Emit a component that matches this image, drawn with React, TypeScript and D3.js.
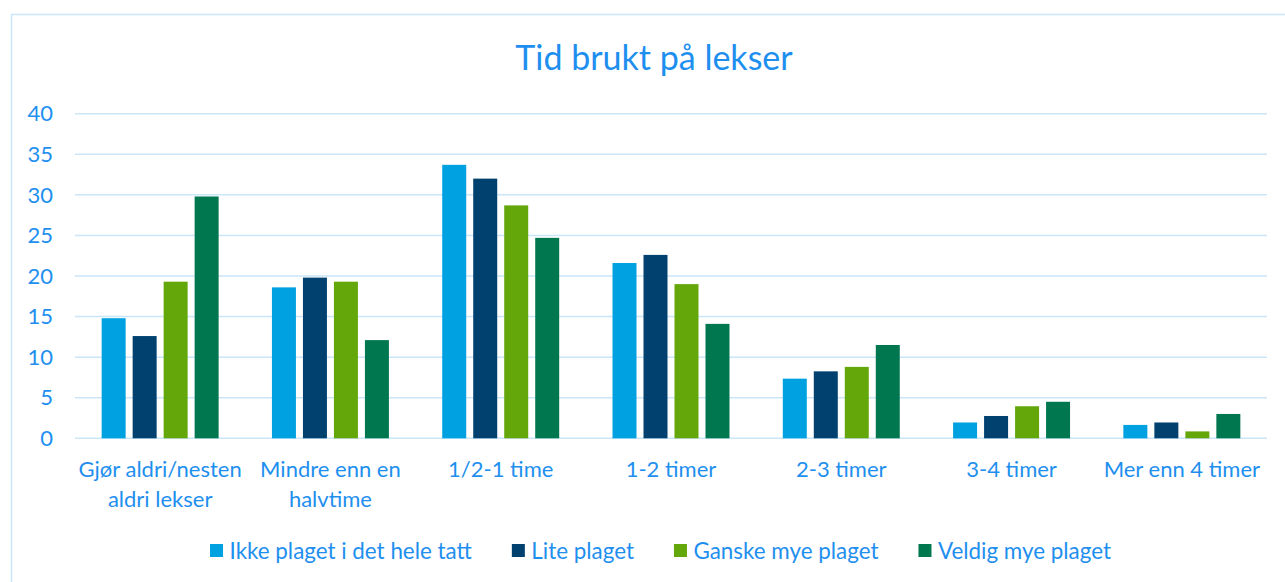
import React, { useEffect, useRef } from 'react';
import * as d3 from 'd3';

const categories = [
  'Gjør aldri/nesten aldri lekser',
  'Mindre enn en halvtime',
  '1/2-1 time',
  '1-2 timer',
  '2-3 timer',
  '3-4 timer',
  'Mer enn 4 timer',
];

// label lines for the x axis
const categoryLines = [
  ['Gjør aldri/nesten', 'aldri lekser'],
  ['Mindre enn en', 'halvtime'],
  ['1/2-1 time'],
  ['1-2 timer'],
  ['2-3 timer'],
  ['3-4 timer'],
  ['Mer enn 4 timer'],
];

const seriesNames = ['Ikke plaget i det hele tatt', 'Lite plaget', 'Ganske mye plaget', 'Veldig mye plaget'];
const seriesColors = ['#00A1E0', '#004170', '#64A70B', '#00774F'];

const ikkePlaget = [14.8, 18.6, 33.7, 21.6, 7.35, 1.95, 1.65];
const litePlaget = [12.6, 19.8, 32.0, 22.6, 8.25, 2.75, 1.95];
const ganskeMye = [19.3, 19.3, 28.7, 19.0, 8.8, 3.95, 0.85];
const veldigMye = [29.8, 12.1, 24.7, 14.1, 11.5, 4.5, 3.0];

const seriesValues = [ikkePlaget, litePlaget, ganskeMye, veldigMye];
const yTicks = [0, 5, 10, 15, 20, 25, 30, 35, 40];

const textColor = '#1E8FEF';
const gridColor = '#C9E6FA';
const fontFamily = 'Lato, "Open Sans", sans-serif';

const App = () => {
  const ref = useRef<SVGSVGElement>(null);

  useEffect(() => {
    const svg = d3.select(ref.current);
    svg.selectAll('*').remove();

    const left = 75;
    const right = 1267;
    const top = 113.7;
    const bottom = 438.3;

    // outer frame
    svg.append('rect')
      .attr('x', 11.5).attr('y', 14.5)
      .attr('width', 1300).attr('height', 600)
      .attr('fill', 'white')
      .attr('stroke', gridColor).attr('stroke-width', 1.5);

    // title
    svg.append('text')
      .attr('x', 654).attr('y', 70)
      .attr('text-anchor', 'middle')
      .attr('font-size', 34)
      .attr('fill', textColor)
      .text('Tid brukt på lekser');

    const x0 = d3.scaleBand().domain(categories).range([left, right]).padding(0);
    const x1 = d3.scaleBand().domain(seriesNames).range([0, x0.bandwidth()])
      .paddingInner(0.226).paddingOuter(0.86);
    const y = d3.scaleLinear().domain([0, 40]).range([bottom, top]);

    // gridlines
    svg.append('g').selectAll('line')
      .data(yTicks)
      .enter()
      .append('line')
      .attr('x1', left).attr('x2', right)
      .attr('y1', d => y(d)).attr('y2', d => y(d))
      .attr('stroke', gridColor).attr('stroke-width', 1.5);

    // y labels
    svg.append('g').selectAll('text')
      .data(yTicks)
      .enter()
      .append('text')
      .attr('x', 53).attr('y', d => y(d))
      .attr('dy', '0.35em')
      .attr('text-anchor', 'end')
      .attr('font-size', 22)
      .attr('fill', textColor)
      .text(d => d);

    // bars
    seriesNames.forEach((name, si) => {
      svg.append('g').selectAll('rect')
        .data(seriesValues[si])
        .enter()
        .append('rect')
        .attr('x', (d, i) => (x0(categories[i]) as number) + (x1(name) as number))
        .attr('y', d => y(d))
        .attr('width', x1.bandwidth())
        .attr('height', d => bottom - y(d))
        .attr('fill', seriesColors[si]);
    });

    // x labels
    const xl = svg.append('g');
    categories.forEach((c, i) => {
      const cx = (x0(c) as number) + x0.bandwidth() / 2;
      categoryLines[i].forEach((line, li) => {
        xl.append('text')
          .attr('x', cx).attr('y', 477 + li * 30)
          .attr('text-anchor', 'middle')
          .attr('font-size', 22)
          .attr('fill', textColor)
          .text(line);
      });
    });

    // legend, centered
    const legend = svg.append('g');
    const items = seriesNames.map((name, i) => {
      const g = legend.append('g');
      g.append('rect')
        .attr('x', 0).attr('y', -7)
        .attr('width', 13).attr('height', 13)
        .attr('fill', seriesColors[i]);
      const t = g.append('text')
        .attr('x', 19.5).attr('y', 0)
        .attr('dy', '0.35em')
        .attr('font-size', 22.4)
        .attr('fill', textColor)
        .text(name);
      const w = 19.5 + (t.node() as SVGTextElement).getComputedTextLength();
      return { g, w };
    });
    const gap = 40;
    const total = d3.sum(items, d => d.w) + gap * (items.length - 1);
    let pos = 660.5 - total / 2;
    items.forEach(it => {
      it.g.attr('transform', `translate(${pos}, 551)`);
      pos += it.w + gap;
    });
  }, []);

  return (
    <svg
      ref={ref}
      width={1285}
      height={582}
      style={{ position: 'absolute', left: 0, top: 0, fontFamily }}
    />
  );
};

export default App;
